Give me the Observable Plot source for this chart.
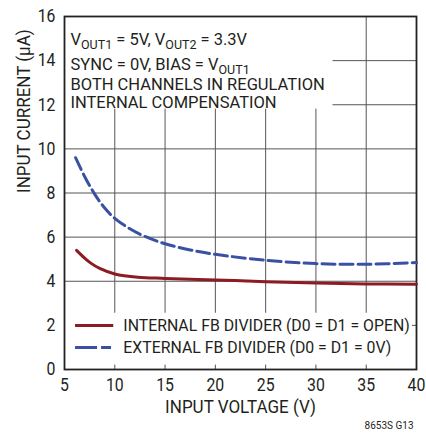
<!DOCTYPE html>
<html>
<head>
<meta charset="utf-8">
<script src="https://cdn.jsdelivr.net/npm/d3@7"></script>
<script src="https://cdn.jsdelivr.net/npm/@observablehq/plot@0.6"></script>
<style>
  html, body { margin: 0; padding: 0; background: #fff; }
</style>
</head>
<body>
<div id="chart"></div>
<script>
// ---- Data ----
const inputVoltageInternal = [6.2, 7, 7.65, 8.5, 10, 12.3, 15, 20, 25, 30, 35, 40];
const inputCurrentInternal = [5.4, 5.05, 4.81, 4.58, 4.33, 4.18, 4.13, 4.06, 3.98, 3.92, 3.88, 3.86];
const inputVoltageExternal = [6.1, 7, 8, 9, 10, 11.5, 13, 15, 17.5, 20, 25, 30, 35, 40];
const inputCurrentExternal = [9.6, 8.75, 7.95, 7.32, 6.85, 6.38, 6.03, 5.7, 5.42, 5.22, 4.95, 4.8, 4.77, 4.85];

const xTicks = [5, 10, 15, 20, 25, 30, 35, 40];
const yTicks = [0, 2, 4, 6, 8, 10, 12, 14, 16];
const xGrid = [10, 15, 20, 25, 30, 35];
const yGrid = [2, 4, 6, 8, 10, 12, 14];

const seriesNames = ["INTERNAL FB DIVIDER (D0 = D1 = OPEN)", "EXTERNAL FB DIVIDER (D0 = D1 = 0V)"];
const seriesColors = ["#8c1c22", "#3a51a3"];
const noteLines = [
  "V{OUT1} = 5V, V{OUT2} = 3.3V",
  "SYNC = 0V, BIAS = V{OUT1}",
  "BOTH CHANNELS IN REGULATION",
  "INTERNAL COMPENSATION"
];
const xLabel = "INPUT VOLTAGE (V)";
const yLabel = "INPUT CURRENT (µA)";
const figureId = "8653S G13";

// annotation/legend backgrounds and legend swatches (data units)
const noteBox = [{x1: 5, x2: 31.7, y1: 11.8, y2: 16}];
const legendBox = [{x1: 5, x2: 39.6, y1: 0.2, y2: 2.55}];
const legendY = [2.0, 1.0];
const legendSwatchX = [6.1, 9.9];
const legendTextX = 10.85;

const internal = inputVoltageInternal.map((v, i) => ({v, c: inputCurrentInternal[i]}));
const external = inputVoltageExternal.map((v, i) => ({v, c: inputCurrentExternal[i]}));

const FONT = "'Liberation Sans Narrow', 'Arial Narrow', 'Roboto', sans-serif";
const TXT = "#231f20";
const DASH = "13,5";

const chart = Plot.plot({
  width: 426,
  height: 436,
  marginLeft: 64,
  marginRight: 10,
  marginTop: 16,
  marginBottom: 67,
  style: {fontFamily: FONT, fontSize: "18px", color: TXT, background: "#fff"},
  x: {domain: [5, 40], ticks: xTicks, tickSize: 0, tickPadding: 9, label: null},
  y: {domain: [0, 16], ticks: yTicks, tickSize: 0, tickPadding: 9, label: null},
  marks: [
    Plot.ruleX(xGrid, {stroke: "#555", strokeWidth: 1}),
    Plot.ruleY(yGrid, {stroke: "#555", strokeWidth: 1}),
    Plot.rect(noteBox, {x1: "x1", x2: "x2", y1: "y1", y2: "y2", fill: "#fff"}),
    Plot.rect(legendBox, {x1: "x1", x2: "x2", y1: "y1", y2: "y2", fill: "#fff"}),
    Plot.frame({stroke: "#222", strokeWidth: 1.8}),
    Plot.line(external, {x: "v", y: "c", stroke: seriesColors[1], strokeWidth: 3, strokeDasharray: DASH, curve: "catmull-rom"}),
    Plot.line(internal, {x: "v", y: "c", stroke: seriesColors[0], strokeWidth: 3, curve: "catmull-rom"}),
    // legend
    Plot.ruleY([legendY[0]], {x1: legendSwatchX[0], x2: legendSwatchX[1], stroke: seriesColors[0], strokeWidth: 3}),
    Plot.ruleY([legendY[1]], {x1: legendSwatchX[0], x2: legendSwatchX[1], stroke: seriesColors[1], strokeWidth: 3, strokeDasharray: "22,4,10"}),
    Plot.text(seriesNames, {x: legendTextX, y: (d, i) => legendY[i], text: d => d, textAnchor: "start", fontSize: 16.5, fill: TXT}),
    // notes
    ...noteLines.map((t, i) => Plot.text([t], {frameAnchor: "top-left", text: d => d, textAnchor: "start", dx: 6, dy: [16.5, 42, 62, 80][i], fontSize: 16.5, fill: TXT})),
    // axis titles
    Plot.text([xLabel], {frameAnchor: "bottom", text: d => d, dy: 43.5, fontSize: 18.5, fill: TXT}),
    Plot.text([yLabel], {frameAnchor: "left", text: d => d, rotate: -90, dx: -40, fontSize: 18.5, fill: TXT}),
    Plot.text([figureId], {frameAnchor: "bottom-right", text: d => d, textAnchor: "end", dx: -3, dy: 59, fontSize: 10, fill: TXT})
  ]
});

// subscripts: V{OUT1} -> V with lowered smaller OUT1
d3.select(chart).selectAll("text").each(function() {
  const el = d3.select(this);
  const s = this.textContent;
  if (!s.includes("{")) return;
  el.text(null);
  const parts = s.split(/(\{[^}]*\})/);
  for (const p of parts) {
    if (!p) continue;
    if (p.startsWith("{")) {
      el.append("tspan").attr("font-size", "12.5px").attr("dy", "4").text(p.slice(1, -1));
      el.append("tspan").attr("dy", "-4").text("\u200b");
    } else {
      el.append("tspan").text(p);
    }
  }
});

document.getElementById("chart").appendChild(chart);

// condense some texts horizontally (the reference uses a condensed face)
function condense(el, f) {
  const L = el.getComputedTextLength();
  if (L > 0) {
    el.setAttribute("textLength", (L * f).toFixed(1));
    el.setAttribute("lengthAdjust", "spacingAndGlyphs");
  }
}
d3.select(chart).selectAll("text").each(function() {
  const s = this.textContent;
  if (/^\d+$/.test(s)) condense(this, 0.88);
  else if (s === xLabel || s === yLabel) condense(this, 0.92);
  else if (seriesNames.includes(s)) condense(this, 0.96);
});
</script>
</body>
</html>
